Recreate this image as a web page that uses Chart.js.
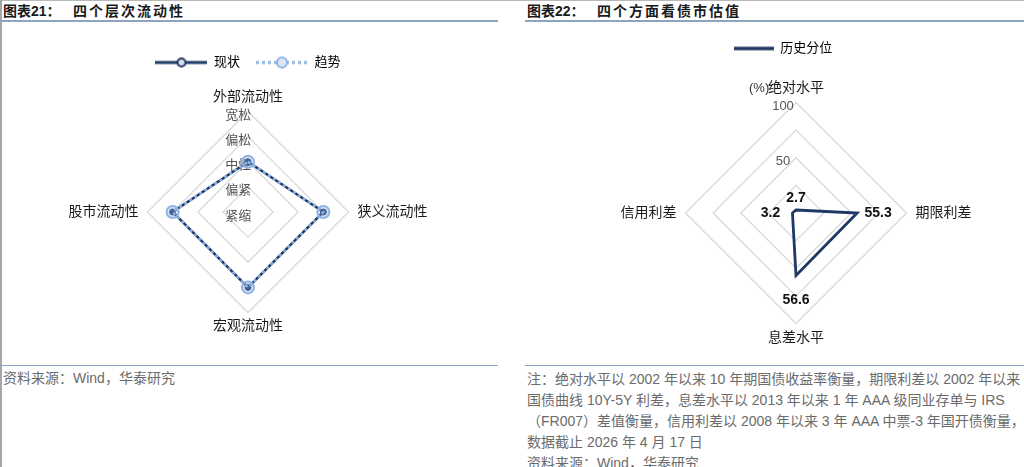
<!DOCTYPE html>
<html lang="zh-CN">
<head>
<meta charset="utf-8">
<title>四个层次流动性 / 四个方面看债市估值</title>
<script src="https://cdn.jsdelivr.net/npm/chart.js@4.4.1/dist/chart.umd.min.js"></script>
<style>
  html, body { margin: 0; padding: 0; background: #fff; }
  body {
    width: 1024px; height: 467px; position: relative; overflow: hidden;
    font-family: "Liberation Sans", "Noto Sans CJK SC", sans-serif;
  }
  .frame-top { position: absolute; left: 0; top: 0; width: 1024px; height: 1px; background: #b8b8b8; }
  .frame-left { position: absolute; left: 0; top: 0; width: 2px; height: 467px; background: #a6a6a6; }
  .title {
    position: absolute; top: 2px; height: 18px; line-height: 18px;
    font-size: 14px; font-weight: bold; color: #1a1a1a; white-space: nowrap;
  }
  .title .sub { position: absolute; left: 70px; letter-spacing: 2px; }
  .rule { position: absolute; height: 2px; background: #8ea3be; }
  .chart-box { position: absolute; }
  .note {
    position: absolute; font-size: 14px; line-height: 21px; color: #6b6b6b; white-space: nowrap;
  }
  .unit { position: absolute; left: 749px; top: 80px; font-size: 13px; color: #333; }
</style>
</head>
<body>
<div class="frame-top"></div>
<div class="frame-left"></div>

<div class="title" style="left:3px">图表21：<span class="sub">四个层次流动性</span></div>
<div class="rule" style="left:0; top:20px; width:498px"></div>
<div class="title" style="left:527px">图表22：<span class="sub">四个方面看债市估值</span></div>
<div class="rule" style="left:525px; top:20px; width:499px"></div>

<div class="chart-box" style="left:0; top:40px; width:496px; height:305px">
  <canvas id="liquidityChart"></canvas>
</div>
<div class="chart-box" style="left:570px; top:32px; width:452px; height:329px">
  <canvas id="valuationChart"></canvas>
</div>
<div class="unit">(%)</div>

<div class="rule" style="left:0; top:365px; width:498px; height:1px"></div>
<div class="rule" style="left:525px; top:365px; width:499px; height:1px"></div>
<div class="note" style="left:3px; top:368px">资料来源：Wind，华泰研究</div>
<div class="note" style="left:527px; top:369px">
  注：绝对水平以 2002 年以来 10 年期国债收益率衡量，期限利差以 2002 年以来<br>
  国债曲线 10Y-5Y 利差，息差水平以 2013 年以来 1 年 AAA 级同业存单与 IRS<br>
  （FR007）差值衡量，信用利差以 2008 年以来 3 年 AAA 中票-3 年国开债衡量，<br>
  数据截止 2026 年 4 月 17 日<br>
  资料来源：Wind，华泰研究
</div>

<script>
// 图表21 数据
const liquidityAxes = ["外部流动性", "狭义流动性", "宏观流动性", "股市流动性"];
const liquidityLevels = ["紧缩", "偏紧", "中性", "偏松", "宽松"];
const liquidityNow = [2, 3, 3, 3];
const liquidityTrend = [2, 3, 3, 3];

// 图表22 数据
const valuationAxes = ["绝对水平", "期限利差", "息差水平", "信用利差"];
const valuationPercentile = [2.7, 55.3, 56.6, 3.2];
const valuationTickLabels = { 50: "50", 100: "100" };

const NAVY = "#1f3864";
const LIGHT_BLUE = "#8db4e2";
const GRID = "#d9d9d9";
const FONT_FAMILY = '"Liberation Sans", "Noto Sans CJK SC", sans-serif';
// 刻度文字略偏左、偏下：右侧补空白，前面加一个空行（行高很小）
const TICK_PAD = "\u2003\u2002";
const tickText = (text) => ["", text + TICK_PAD];

Chart.defaults.font.family = FONT_FAMILY;

// 图例小图标：线段 + 可选圆点
function makeLegendIcon(width, color, lineWidth, dash, radius, fill, ringWidth) {
  const c = document.createElement("canvas");
  c.width = width;
  c.height = 14;
  const g = c.getContext("2d");
  g.strokeStyle = color;
  g.lineWidth = lineWidth;
  g.setLineDash(dash);
  g.beginPath();
  g.moveTo(0, 7);
  g.lineTo(width, 7);
  g.stroke();
  if (radius) {
    g.setLineDash([]);
    g.beginPath();
    g.arc(width / 2, 7, radius, 0, Math.PI * 2);
    g.fillStyle = fill;
    g.fill();
    g.lineWidth = ringWidth;
    g.stroke();
  }
  return c;
}

// 上下两个轴标签用更高的行高，左右两个保持正常
function pointLabelFont(vLineHeight) {
  return (c) => ({ size: 14, lineHeight: c.index % 2 === 0 ? vLineHeight : 1.2 });
}

// 数据标签（图表22）
const valueLabelPlugin = {
  id: "valueLabels",
  afterDatasetsDraw(chart, args, opts) {
    const meta = chart.getDatasetMeta(0);
    const values = chart.data.datasets[0].data;
    const ctx = chart.ctx;
    ctx.save();
    ctx.font = "bold 14px " + FONT_FAMILY;
    ctx.fillStyle = "#111";
    ctx.textAlign = "center";
    ctx.textBaseline = "middle";
    meta.data.forEach((pt, i) => {
      const [dx, dy] = opts.offsets[i];
      ctx.fillText(values[i].toFixed(1), pt.x + dx, pt.y + dy);
    });
    ctx.restore();
  },
};

function initLiquidityChart() {
  const ctx = document.getElementById("liquidityChart").getContext("2d");
  const iconNow = makeLegendIcon(52, NAVY, 3, [], 4, "#d6e1f0", 2);
  const iconTrend = makeLegendIcon(52, LIGHT_BLUE, 3, [3, 3], 5, "#dbe7f5", 2);
  new Chart(ctx, {
    type: "radar",
    data: {
      labels: liquidityAxes,
      datasets: [
        {
          label: "现状",
          data: liquidityNow,
          borderColor: NAVY,
          borderWidth: 2.5,
          borderJoinStyle: "miter",
          fill: false,
          pointRadius: 3,
          pointBackgroundColor: NAVY,
          pointBorderColor: NAVY,
          pointBorderWidth: 1,
          order: 2,
        },
        {
          label: "趋势",
          data: liquidityTrend,
          borderColor: LIGHT_BLUE,
          borderWidth: 2.5,
          borderDash: [3, 3],
          borderJoinStyle: "miter",
          fill: false,
          pointRadius: 6,
          pointBackgroundColor: "rgba(141, 180, 226, 0.35)",
          pointBorderColor: LIGHT_BLUE,
          pointBorderWidth: 2,
          order: 1,
        },
      ],
    },
    options: {
      responsive: true,
      maintainAspectRatio: false,
      animation: false,
      plugins: {
        tooltip: { enabled: false },
        legend: {
          position: "top",
          labels: {
            usePointStyle: true,
            pointStyleWidth: 52,
            padding: 16,
            color: "#333",
            font: { size: 13 },
            generateLabels: () => [
              { text: "现状", pointStyle: iconNow, datasetIndex: 0, hidden: false, lineWidth: 0 },
              { text: "趋势", pointStyle: iconTrend, datasetIndex: 1, hidden: false, lineWidth: 0 },
            ],
          },
        },
      },
      scales: {
        r: {
          min: -0.000001,
          max: 4,
          angleLines: { display: false },
          grid: { color: GRID, lineWidth: 1.3 },
          pointLabels: {
            padding: (c) => (c.index % 2 === 0 ? -11 : 2.5),
            color: "#1a1a1a",
            font: pointLabelFont("37px"),
          },
          ticks: {
            stepSize: 1,
            showLabelBackdrop: false,
            backdropPadding: 0,
            color: "#555",
            font: { size: 13, lineHeight: "4px" },
            callback: (v) => tickText(liquidityLevels[Math.round(v)] ?? ""),
          },
        },
      },
    },
  });
}

function initValuationChart() {
  const ctx = document.getElementById("valuationChart").getContext("2d");
  const iconLine = makeLegendIcon(40, NAVY, 3.5, [], 0);
  new Chart(ctx, {
    type: "radar",
    data: {
      labels: valuationAxes,
      datasets: [
        {
          label: "历史分位",
          data: valuationPercentile,
          borderColor: NAVY,
          borderWidth: 2.8,
          borderJoinStyle: "miter",
          fill: false,
          pointRadius: 0,
        },
      ],
    },
    options: {
      responsive: true,
      maintainAspectRatio: false,
      animation: false,
      plugins: {
        tooltip: { enabled: false },
        valueLabels: { offsets: [[0, -12], [21, 0], [0, 25], [-22, 0]] },
        legend: {
          position: "top",
          labels: {
            usePointStyle: true,
            pointStyleWidth: 40,
            padding: 10,
            color: "#333",
            font: { size: 13 },
            generateLabels: () => [
              { text: "历史分位\u3000\u3000", pointStyle: iconLine, datasetIndex: 0, hidden: false, lineWidth: 0 },
            ],
          },
        },
      },
      scales: {
        r: {
          min: 0,
          max: 100,
          angleLines: { display: false },
          grid: { color: GRID, lineWidth: 1.3 },
          pointLabels: {
            padding: (c) => (c.index % 2 === 0 ? -15 : 2.5),
            color: "#1a1a1a",
            font: pointLabelFont("46px"),
          },
          ticks: {
            stepSize: 25,
            showLabelBackdrop: false,
            backdropPadding: 0,
            color: "#555",
            font: { size: 13, lineHeight: "4px" },
            callback: (v) => (v in valuationTickLabels ? tickText(valuationTickLabels[v] + "\u2002") : ""),
          },
        },
      },
    },
    plugins: [valueLabelPlugin],
  });
}

document.addEventListener("DOMContentLoaded", () => {
  initLiquidityChart();
  initValuationChart();
});
</script>
</body>
</html>
